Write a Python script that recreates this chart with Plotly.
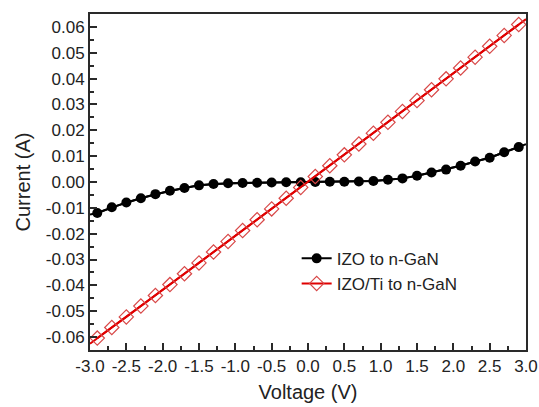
import plotly.graph_objects as go

# Data
voltage = [-2.9, -2.7, -2.5, -2.3, -2.1, -1.9, -1.7, -1.5, -1.3, -1.1,
           -0.9, -0.7, -0.5, -0.3, -0.1, 0.1, 0.3, 0.5, 0.7, 0.9,
           1.1, 1.3, 1.5, 1.7, 1.9, 2.1, 2.3, 2.5, 2.7, 2.9]
izo_current = [-0.0120, -0.0098, -0.0079, -0.0063, -0.0047, -0.0034, -0.0023, -0.0013, -0.0008, -0.0005,
               -0.0004, -0.0003, -0.0002, -0.0001, -0.0001, 0.0000, 0.0001, 0.0001, 0.0002, 0.0004,
               0.0009, 0.0014, 0.0024, 0.0037, 0.0048, 0.0063, 0.0079, 0.0094, 0.0115, 0.0135]
izo_ti_current = [-0.0604, -0.0563, -0.0522, -0.0480, -0.0439, -0.0397, -0.0355, -0.0313, -0.0271, -0.0230,
                  -0.0188, -0.0146, -0.0104, -0.0063, -0.0021, 0.0021, 0.0063, 0.0105, 0.0147, 0.0189,
                  0.0231, 0.0273, 0.0315, 0.0357, 0.0399, 0.0441, 0.0483, 0.0525, 0.0567, 0.0609]
# line end points at the axis edges
edge_voltage = [-3.0, 3.0]
izo_edge = [-0.0126, 0.0146]
izo_ti_edge = [-0.0626, 0.0630]

x_tickvals = [-3.0, -2.5, -2.0, -1.5, -1.0, -0.5, 0.0, 0.5, 1.0, 1.5, 2.0, 2.5, 3.0]
x_ticktext = ["-3.0", "-2.5", "-2.0", "-1.5", "-1.0", "-0.5", "0.0", "0.5", "1.0", "1.5", "2.0", "2.5", "3.0"]
y_tickvals = [-0.06, -0.05, -0.04, -0.03, -0.02, -0.01, 0.0, 0.01, 0.02, 0.03, 0.04, 0.05, 0.06]
y_ticktext = ["-0.06", "-0.05", "-0.04", "-0.03", "-0.02", "-0.01", "0.00", "0.01", "0.02", "0.03", "0.04", "0.05", "0.06"]

FONT = "Liberation Sans, Arial, sans-serif"

fig = go.Figure()

# continuous lines (no legend)
fig.add_trace(go.Scatter(
    x=[edge_voltage[0]] + voltage + [edge_voltage[1]],
    y=[izo_ti_edge[0]] + izo_ti_current + [izo_ti_edge[1]],
    mode="lines", line=dict(color="#e00000", width=2), showlegend=False, hoverinfo="skip"))
fig.add_trace(go.Scatter(
    x=[edge_voltage[0]] + voltage + [edge_voltage[1]],
    y=[izo_edge[0]] + izo_current + [izo_edge[1]],
    mode="lines", line=dict(color="black", width=2), showlegend=False, hoverinfo="skip"))

# marker traces
fig.add_trace(go.Scatter(
    x=voltage, y=izo_current, mode="lines+markers", name="IZO to n-GaN",
    line=dict(color="black", width=2),
    marker=dict(symbol="circle", size=10, color="black")))
fig.add_trace(go.Scatter(
    x=voltage, y=izo_ti_current, mode="lines+markers", name="IZO/Ti to n-GaN",
    line=dict(color="#e00000", width=2),
    marker=dict(symbol="diamond-open", size=11, color="#d84848", line=dict(width=1.2, color="#d84848"))))

axis_common = dict(
    showline=True, linecolor="#2a2a2a", linewidth=2, mirror=True,
    ticks="inside", ticklen=7, tickwidth=1.5, tickcolor="#2a2a2a",
    showgrid=False, zeroline=False,
    tickfont=dict(family=FONT, size=17, color="#222"),
)

fig.update_xaxes(
    range=[-3.0, 3.0], tickmode="array", tickvals=x_tickvals, ticktext=x_ticktext,
    minor=dict(ticks="inside", ticklen=4, tickwidth=1.5, tickcolor="#2a2a2a", dtick=0.25, tick0=0),
    title=dict(text="Voltage (V)", font=dict(family=FONT, size=20, color="#222"), standoff=10),
    **axis_common)
fig.update_yaxes(
    range=[-0.065, 0.065], tickmode="array", tickvals=y_tickvals, ticktext=y_ticktext,
    minor=dict(ticks="inside", ticklen=4, tickwidth=1.5, tickcolor="#2a2a2a", dtick=0.005, tick0=0),
    title=dict(text="Current (A)", font=dict(family=FONT, size=20, color="#222"), standoff=10),
    **axis_common)

fig.update_layout(
    width=539, height=407,
    margin=dict(l=90, r=13, t=14, b=57, autoexpand=False),
    paper_bgcolor="white", plot_bgcolor="white",
    legend=dict(x=0.474, y=0.325, xanchor="left", yanchor="top",
                font=dict(family=FONT, size=17, color="#222"),
                bgcolor="rgba(0,0,0,0)", itemwidth=30, tracegroupgap=0),
    showlegend=True,
)

fig.write_html("out.html", config={"displayModeBar": False},
               post_script="document.body.style.margin='0';")
